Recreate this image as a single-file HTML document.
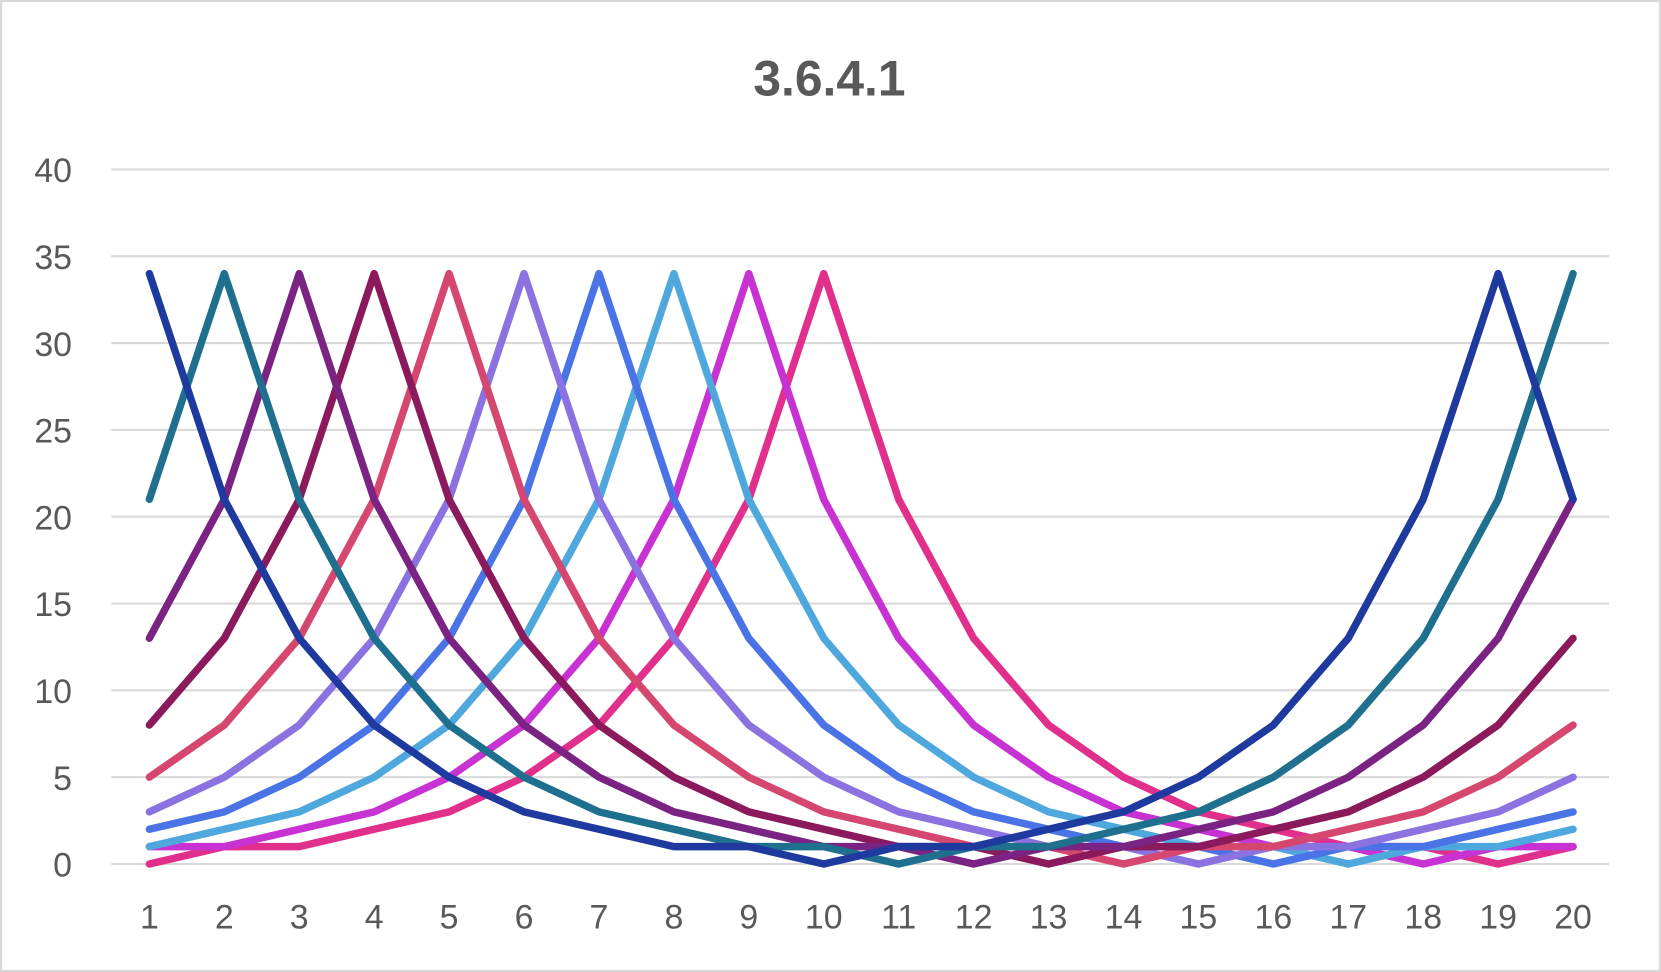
<!DOCTYPE html>
<html><head><meta charset="utf-8"><style>
html,body{margin:0;padding:0;background:#fff;}
svg{display:block;}
</style></head><body>
<svg id="c" width="1661" height="972" viewBox="0 0 1568 918" preserveAspectRatio="none" xmlns="http://www.w3.org/2000/svg">
<rect x="1" y="1" width="1566" height="916" fill="#fff" stroke="#d9d9d9" stroke-width="2"/>
<text x="783" y="90" text-anchor="middle" font-family="Liberation Sans, sans-serif" font-weight="bold" font-size="47" fill="#595959">3.6.4.1</text>
<g id="g"></g>
</svg>
<script>
var g=document.getElementById('g'),s='';
function Y(v){return 816-v*16.4;}
function X(i){return 141+(i-1)*(1344/19);}
for(var v=0;v<=40;v+=5){
 s+='<line x1="105" x2="1519" y1="'+Y(v)+'" y2="'+Y(v)+'" stroke="#d9d9d9" stroke-width="2"/>';
 s+='<text x="68" y="'+(Y(v)+12)+'" text-anchor="end" font-family="Liberation Sans, sans-serif" font-size="32" fill="#595959">'+v+'</text>';
}
for(var i=1;i<=20;i++){
 s+='<text x="'+X(i)+'" y="877" text-anchor="middle" font-family="Liberation Sans, sans-serif" font-size="32" fill="#595959">'+i+'</text>';
}
var vals=[34,21,13,8,5,3,2,1,1,0];
var cols=['#1f3a9e','#1f6f8f','#7a2382','#8b1a5c','#d6476f','#8a72e0','#4a74e6','#4fa8dd','#c832d2','#e0308c'];
for(var k=10;k>=1;k--){
 var p='';
 for(var i=1;i<=20;i++){
  var d=Math.abs(i-k)%18; d=Math.min(d,18-d);
  p+=(i==1?'M':'L')+X(i)+','+Y(vals[d]);
 }
 s+='<path d="'+p+'" fill="none" stroke="'+cols[k-1]+'" stroke-width="7" stroke-linejoin="round" stroke-linecap="round"/>';
}
g.innerHTML=s;
</script>
</body></html>
